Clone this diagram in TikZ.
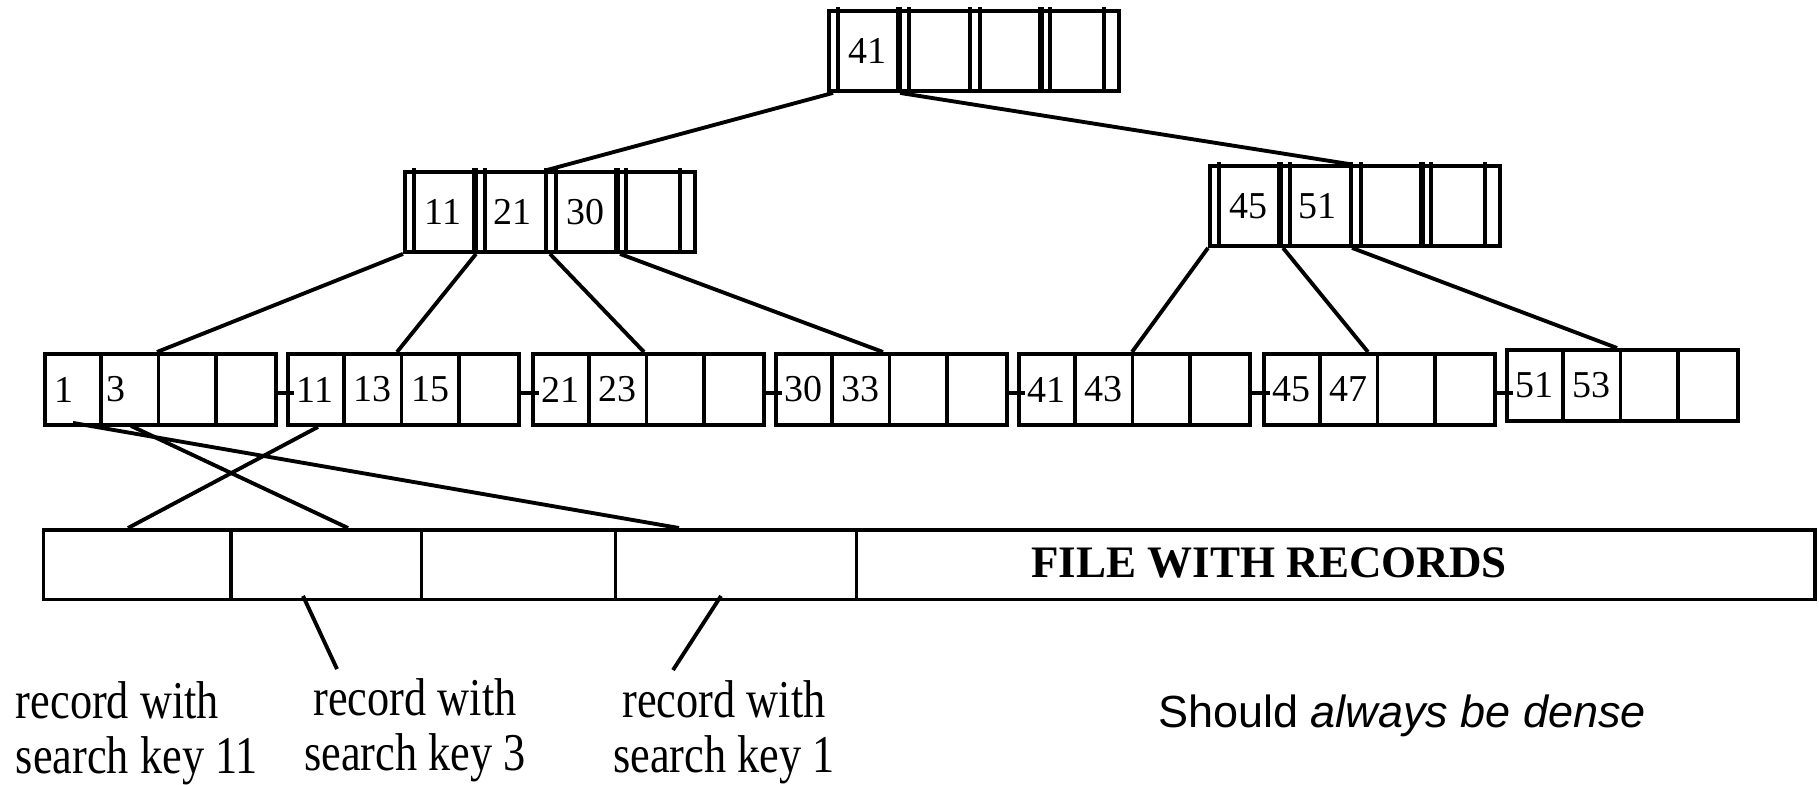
\documentclass[tikz,border=0pt]{standalone}
\usepackage{fontspec}
\setmainfont{Liberation Serif}
\newfontfamily\arialf{Liberation Sans}
\usetikzlibrary{calc}
\newcommand\tallline[1]{\scalebox{1}[1.2]{#1}}
\begin{document}
\begin{tikzpicture}[x=0.01cm,y=-0.01cm, line width=1.1pt,
  box/.style={draw, rectangle, inner sep=0pt, anchor=north west, line width=1.1pt},
  innerbox/.style={box, minimum width=2.9cm, minimum height=0.8cm},
  leafbox/.style={box, minimum width=2.31cm, minimum height=0.71cm},
  num/.style={font=\fontsize{10.8}{12}\selectfont, inner sep=0pt},
  lbl/.style={font=\fontsize{12.6}{15.4}\selectfont, align=center, inner sep=0pt},
  dbl/.style={line width=1.7pt}]
\useasboundingbox (0,0) rectangle (1819,784);

% internal nodes
\node[innerbox] (R) at (827,9) {};
\node[innerbox] (I1) at (403,170) {};
\node[innerbox] (I2) at (1208,164) {};
\foreach \n in {R,I1,I2}{
  \foreach \o in {11,82,143,153,223,277}
    \draw ($(\n.north west)+(\o,-2)$) -- ($(\n.south west)+(\o,0)$);
  \foreach \o in {72,214}
    \draw[dbl] ($(\n.north west)+(\o,-2)$) -- ($(\n.south west)+(\o,0)$);
}
\node[num] (R1) at ($(R.west)+(40,0)$) {41};
\node[num] (I11) at ($(I1.west)+(40,0)$) {11};
\node[num] (I12) at ($(I1.west)+(109,0)$) {21};
\node[num] (I13) at ($(I1.west)+(182,0)$) {30};
\node[num] (I21) at ($(I2.west)+(40,0)$) {45};
\node[num] (I22) at ($(I2.west)+(109,0)$) {51};

% leaves
\foreach \i/\x/\y in {1/43/352, 2/286/352, 3/531/352, 4/774/352, 5/1017/352, 6/1262/352, 7/1505/348}{
  \node[leafbox] (L\i) at (\x,\y) {};
  \foreach \o in {57.75,173.25}
    \draw ($(L\i.north west)+(\o,0)$) -- ($(L\i.south west)+(\o,-4)$);
  \draw ($(L\i.north west)+(115.5,0)$) -- ($(L\i.south west)+(115.5,0)$);
}
\node[num] (K1a) at ($(L1.west)+(21,0)$) {1};
\node[num] (K1b) at ($(L1.west)+(73,0)$) {3};
\foreach \i/\a/\b/\c in {2/11/13/15, 3/21/23/, 4/30/33/, 5/41/43/, 6/45/47/, 7/51/53/}{
  \node[num] (K\i a) at ($(L\i.west)+(29,0)$) {\a};
  \node[num] (K\i b) at ($(L\i.west)+(86.6,0)$) {\b};
  \node[num] (K\i c) at ($(L\i.west)+(144.4,0)$) {\c};
}
\foreach \a/\b in {1/2,2/3,3/4,4/5,5/6,6/7}
  \draw ($(L\a.east)+(-4,3.5)$) -- ($(L\a.east -| L\b.west)+(8,3.5)$);

% tree edges
\draw ($(R.south west)+(6,0)$) -- ($(I1.north west)+(144,0)$);
\draw ($(R.south west)+(73,0)$) -- ($(I2.north west)+(141,0)$);
\draw (I1.south west) -- ($(L1.north west)+(114,0)$);
\draw ($(I1.south west)+(73,0)$) -- ($(L2.north west)+(111,0)$);
\draw ($(I1.south west)+(147,0)$) -- ($(L3.north west)+(113,0)$);
\draw ($(I1.south west)+(217,0)$) -- ($(L4.north west)+(109,0)$);
\draw (I2.south west) -- ($(L5.north west)+(115,0)$);
\draw ($(I2.south west)+(75,0)$) -- ($(L6.north west)+(106,0)$);
\draw ($(I2.south west)+(144,0)$) -- ($(L7.north west)+(112,0)$);

% file
\node[box, minimum width=17.705cm, minimum height=0.695cm] (F) at (41.5,528) {};
\foreach \o in {189.5,380,574,815}
  \draw ($(F.north west)+(\o,0)$) -- ($(F.south west)+(\o,0)$);
\node[inner sep=0pt, font=\bfseries\fontsize{12.8}{14}\selectfont] (FT) at (1269,563) {FILE WITH RECORDS};

% record pointers
\draw ($(L1.south west)+(30,-4)$) -- ($(F.north west)+(637.5,0)$);
\draw ($(L1.south west)+(88,-1)$) -- ($(F.north west)+(306.5,0)$);
\draw ($(L2.south west)+(32,0)$) -- ($(F.north west)+(86.5,0)$);

% labels
\node[lbl, align=left, anchor=base west] (G1) at (14,773) {\tallline{record with}\\\tallline{search key 11}};
\node[lbl, anchor=base] (G2) at (415,770) {\tallline{record with}\\\tallline{search key 3}};
\node[lbl, anchor=base] (G3) at (724,772) {\tallline{record with}\\\tallline{search key 1}};
\draw ($(F.south west)+(261.5,-5.5)$) -- ($(G2.north)+(-78,-8)$);
\draw ($(F.south west)+(679.5,-5.5)$) -- ($(G3.north)+(-51,-9)$);

\node[inner sep=0pt, anchor=base, font=\arialf\fontsize{12.8}{14}\selectfont] (S) at (1402,727) {Should \textit{always be dense}};
\end{tikzpicture}
\end{document}
